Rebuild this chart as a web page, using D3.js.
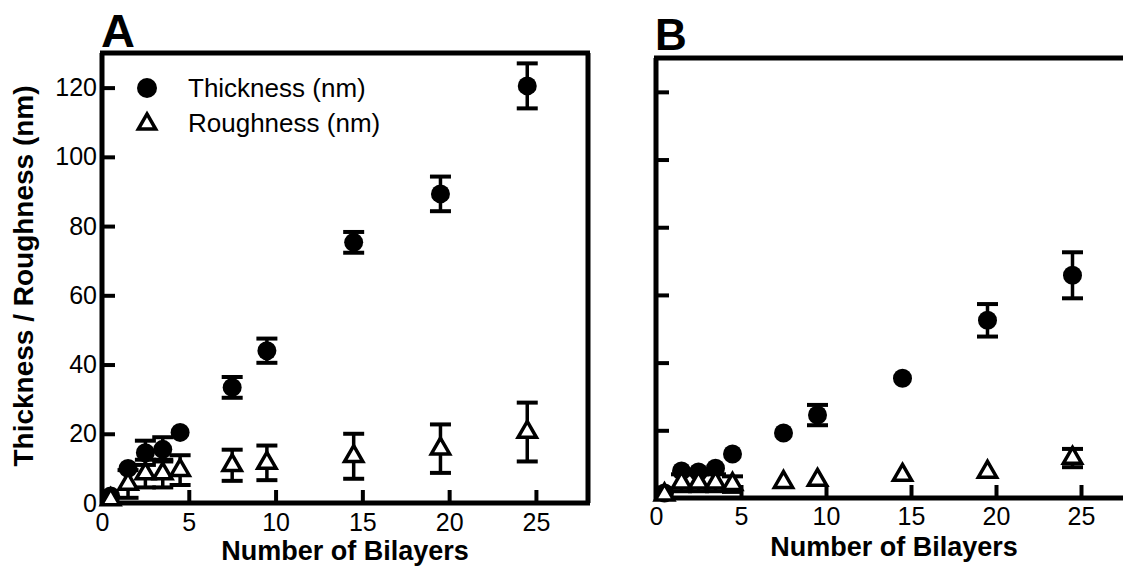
<!DOCTYPE html>
<html>
<head>
<meta charset="utf-8">
<script src="https://cdn.jsdelivr.net/npm/d3@7"></script>
<style>
  html, body { margin: 0; padding: 0; background: #fff; }
  svg { display: block; font-family: "Liberation Sans", Arial, Helvetica, sans-serif; }
</style>
</head>
<body>
<svg id="chart" width="1123" height="567"></svg>
<script>
// ---- Data ----
const bilayers = [0.5, 1.5, 2.5, 3.5, 4.5, 7.5, 9.5, 14.5, 19.5, 24.5];

const thicknessA    = [2, 10, 14.5, 15.5, 20.4, 33.4, 44, 75.3, 89.3, 120.5];
const thicknessAErr = [0, 0, 3.5, 3.5, 0, 3, 3.5, 3, 5, 6.5];
const roughnessA    = [1, 5.5, 8.5, 8.5, 9.5, 10.9, 11.6, 13.5, 15.7, 20.5];
const roughnessAErr = [0, 4, 4, 4, 4.3, 4.5, 5, 6.5, 7, 8.5];

const thicknessB    = [1.5, 8, 7.7, 8.8, 13, 19.2, 24.5, 35.4, 52.5, 65.8];
const thicknessBErr = [0, 0, 0, 0, 0, 0, 3, 0, 4.8, 6.8];
const roughnessB    = [1, 4.5, 4.5, 4.5, 4.1, 4.7, 5.3, 6.8, 7.7, 11.8];
const roughnessBErr = [0, 2.5, 2.5, 2.5, 2.3, 0, 0, 0, 0, 2.7];

const xTicks = [0, 5, 10, 15, 20, 25];
const yTicks = [0, 20, 40, 60, 80, 100, 120];
const xDomain = [0, 28];
const yDomain = [0, 130];

const legendLabels = ["Thickness (nm)", "Roughness (nm)"];
const xTitle = "Number of Bilayers";
const yTitle = "Thickness / Roughness (nm)";

// ---- Drawing ----
const svg = d3.select("#chart");

function panel(opts) {
  const g = svg.append("g");
  const x = d3.scaleLinear().domain(xDomain).range([opts.left, opts.right]);
  const y = d3.scaleLinear().domain(yDomain).range([opts.bottom, opts.top]);

  const xa = g.append("g")
    .attr("transform", `translate(0,${opts.bottom})`)
    .call(d3.axisBottom(x).tickValues(xTicks).tickSize(-13).tickPadding(opts.xPad));
  xa.select(".domain").remove();
  xa.selectAll(".tick line").attr("stroke", "#000").attr("stroke-width", 4);
  xa.selectAll(".tick text").attr("font-size", 25).attr("fill", "#000")
    .attr("font-family", "Liberation Sans, Arial, sans-serif");

  const ya = g.append("g")
    .attr("transform", `translate(${opts.left},0)`)
    .call(d3.axisLeft(y).tickValues(opts.showY ? yTicks : yTicks.slice(1))
      .tickSize(-13).tickPadding(5)
      .tickFormat(opts.showY ? d3.format("d") : () => ""));
  ya.select(".domain").remove();
  ya.selectAll(".tick line").attr("stroke", "#000").attr("stroke-width", 4);
  ya.selectAll(".tick text").attr("font-size", 25).attr("fill", "#000")
    .attr("font-family", "Liberation Sans, Arial, sans-serif");

  const lines = [
    [opts.left, opts.top, opts.left, opts.bottom + 2],
    [opts.left - 2, opts.bottom, opts.right + 2, opts.bottom],
    [opts.left - 2, opts.top, opts.right + 2, opts.top],
    [opts.right, opts.top, opts.right, opts.bottom]
  ];
  g.selectAll("line.frame").data(lines).join("line")
    .attr("class", "frame")
    .attr("x1", d => d[0]).attr("y1", d => d[1])
    .attr("x2", d => d[2]).attr("y2", d => d[3])
    .attr("stroke", "#000").attr("stroke-width", 5);

  const series = [
    { v: opts.thick, e: opts.thickErr },
    { v: opts.rough, e: opts.roughErr }
  ];

  series.forEach(s => {
    const data = bilayers.map((b, i) => ({ b, v: s.v[i], e: s.e[i] })).filter(d => d.e > 0);
    const eg = g.append("g").attr("stroke", "#000");
    eg.selectAll("line.stem").data(data).join("line")
      .attr("x1", d => x(d.b)).attr("x2", d => x(d.b))
      .attr("y1", d => y(d.v + d.e)).attr("y2", d => y(d.v - d.e))
      .attr("stroke-width", 3.5);
    eg.selectAll("line.capT").data(data).join("line")
      .attr("x1", d => x(d.b) - 10.5).attr("x2", d => x(d.b) + 10.5)
      .attr("y1", d => y(d.v + d.e)).attr("y2", d => y(d.v + d.e))
      .attr("stroke-width", 4);
    eg.selectAll("line.capB").data(data).join("line")
      .attr("x1", d => x(d.b) - 10.5).attr("x2", d => x(d.b) + 10.5)
      .attr("y1", d => y(d.v - d.e)).attr("y2", d => y(d.v - d.e))
      .attr("stroke-width", 4);
  });

  g.append("g").selectAll("circle").data(bilayers.map((b, i) => ({ b, v: opts.thick[i] })))
    .join("circle")
    .attr("cx", d => x(d.b)).attr("cy", d => y(d.v)).attr("r", 9.5)
    .attr("fill", "#000");

  const tri = d3.symbol(d3.symbolTriangle, 145);
  g.append("g").selectAll("path").data(bilayers.map((b, i) => ({ b, v: opts.rough[i] })))
    .join("path")
    .attr("d", tri)
    .attr("transform", d => `translate(${x(d.b)},${y(d.v)})`)
    .attr("fill", "#fff").attr("stroke", "#000").attr("stroke-width", 3.5)
    .attr("stroke-linejoin", "miter");

  g.append("text").attr("x", opts.letterX).attr("y", opts.letterY)
    .attr("font-size", opts.letterSize).attr("font-weight", "bold")
    .text(opts.letter);

  g.append("text").attr("x", (opts.left + opts.right) / 2).attr("y", opts.xTitleY)
    .attr("text-anchor", "middle").attr("font-size", 27).attr("font-weight", "bold")
    .text(xTitle);

  return { x, y, g };
}

panel({
  left: 102, right: 588, top: 53, bottom: 503, xPad: 10, showY: true,
  thick: thicknessA, thickErr: thicknessAErr, rough: roughnessA, roughErr: roughnessAErr,
  letter: "A", letterX: 101, letterY: 47, letterSize: 47, xTitleY: 560
});

panel({
  left: 656, right: 1132, top: 58, bottom: 498, xPad: 9, showY: false,
  thick: thicknessB, thickErr: thicknessBErr, rough: roughnessB, roughErr: roughnessBErr,
  letter: "B", letterX: 655, letterY: 50, letterSize: 44, xTitleY: 556
});

svg.append("text")
  .attr("transform", "translate(33,276) rotate(-90)")
  .attr("text-anchor", "middle").attr("font-size", 28).attr("font-weight", "bold")
  .text(yTitle);

const leg = svg.append("g");
leg.append("circle").attr("cx", 147).attr("cy", 88).attr("r", 10).attr("fill", "#000");
leg.append("path").attr("d", d3.symbol(d3.symbolTriangle, 130))
  .attr("transform", "translate(147,124)")
  .attr("fill", "#fff").attr("stroke", "#000").attr("stroke-width", 3.5);
leg.selectAll("text").data(legendLabels).join("text")
  .attr("x", 188).attr("y", (d, i) => 88 + i * 35)
  .attr("dy", "0.35em").attr("font-size", 26)
  .text(d => d);
</script>
</body>
</html>
